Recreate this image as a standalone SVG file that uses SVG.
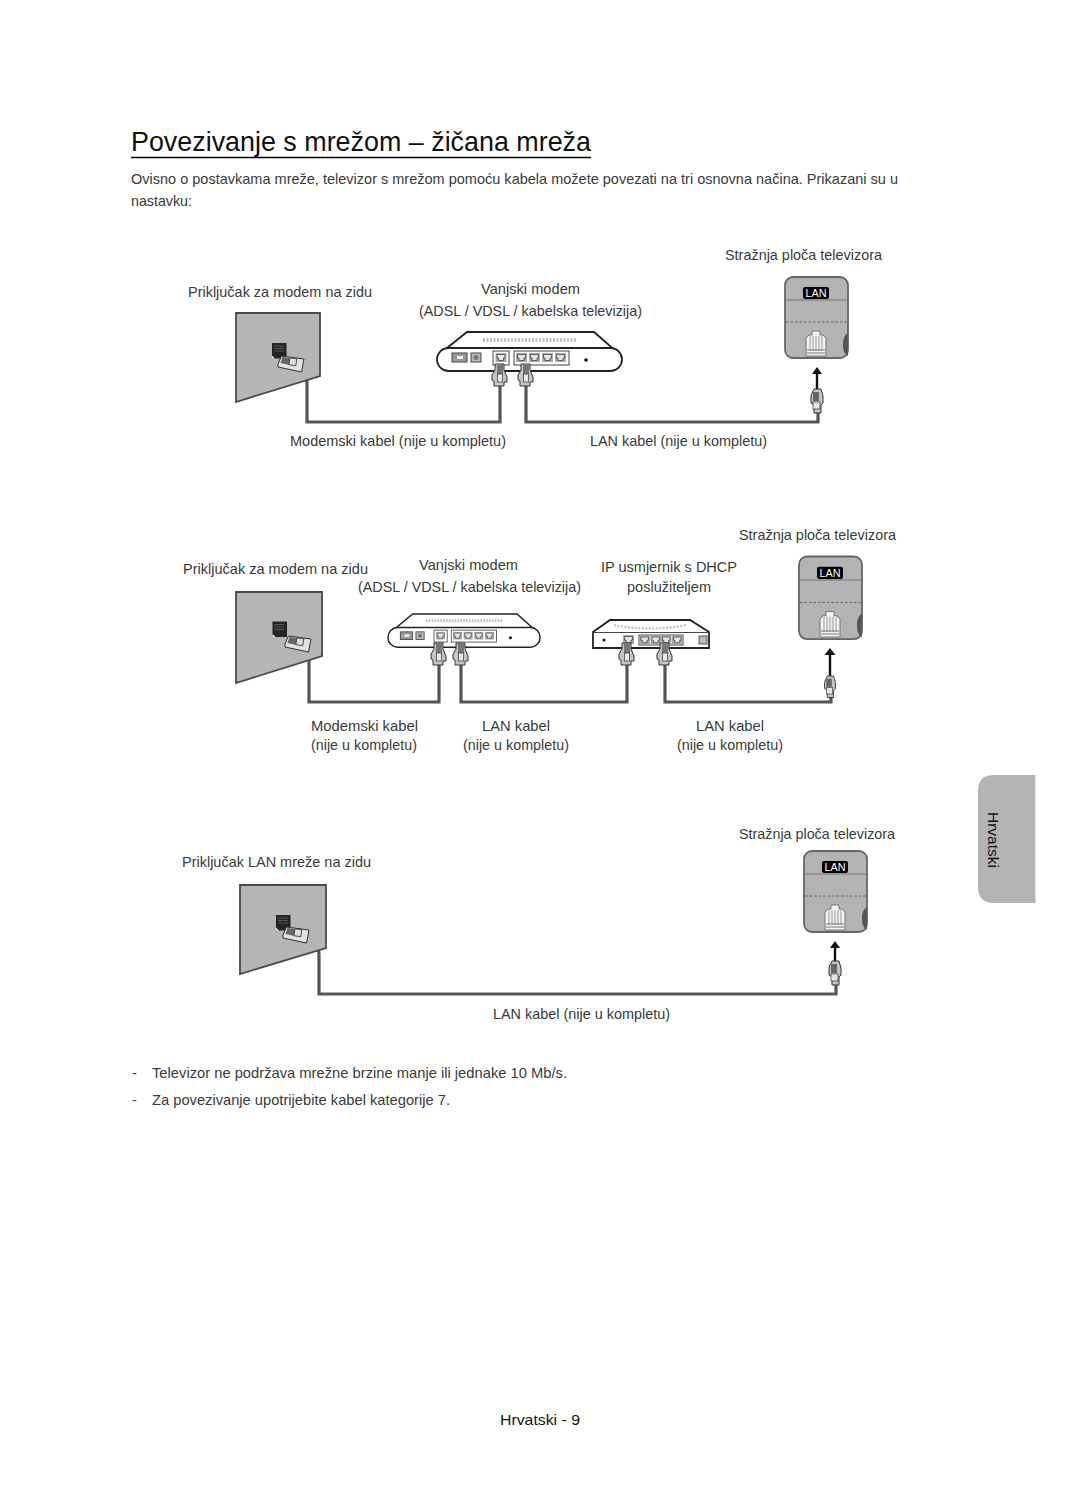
<svg xmlns="http://www.w3.org/2000/svg" xmlns:xlink="http://www.w3.org/1999/xlink" width="1080" height="1494" viewBox="0 0 1080 1494">
<style>
text{font-family:"Liberation Sans",Arial,sans-serif;font-size:14.6px;fill:#3a3a3a}
.title{font-size:27.3px;fill:#111}
.wall{fill:#b5b5b5;stroke:#4a4a4a;stroke-width:1.8}
.cable{fill:none;stroke:#555;stroke-width:3.2;stroke-linejoin:miter}
.plug{fill:#c4c4c4;stroke:#333;stroke-width:1}
.dev{fill:#fff;stroke:#222;stroke-width:1.8}
.port{fill:#fff;stroke:#444;stroke-width:1}
.panel{fill:#b3b3b3;stroke:#666;stroke-width:1.8}
.arrow{fill:none;stroke:#111;stroke-width:2.4}
</style>
<defs>
<g id="rj45-port"><rect x="0" y="0" width="11" height="9" fill="#aaa"/><path d="M1.500 1.500h8v3.500h-1.500v2.500h-5v-2.500h-1.500z" fill="#e4e4e4" stroke="#333" stroke-width=".7"/></g>
<!-- Cable plug hanging below a port; origin at the top centre -->
<g id="plug-v"><path class="plug" d="M-5 0h9v6l3 7v5h-3v4h-10v-5l-2-1v-5l3-5z"/><rect x="-3" y="1" width="6" height="9" fill="#777"/><rect x="-2.500" y="10" width="5" height="8" fill="#e8e8e8" stroke="#333" stroke-width=".7"/></g>
<!-- Plug pushed into the wall socket; origin at its centre -->
<g id="plug-wall"><path class="plug" d="M-13 0L-9.500 -8L13 -5L10.500 8L-13 3Z" stroke-width="1.200" style="fill:#e2e2e2"/><path d="M-8.500 -7L0 -6L-1.500 1L-10.500 -1Z" fill="#666"/><rect x="-2" y="-6" width="7" height="7" fill="#ddd" stroke="#333" stroke-width=".8" transform="rotate(8)"/></g>
<g id="socket"><rect width="14.500" height="15.500" fill="#242424"/><path d="M2 3h10M2 5.500h10M2 8h10" stroke="#666" stroke-width=".8" fill="none"/><path d="M0 15.500v-3l3 3z" fill="#eee"/></g>
<g id="plug-tv"><path class="plug" d="M-3 0h7l2 7v7l-2 2v8h-7v-8l-3-2v-7l1-3z"/><rect x="-4" y="3" width="6" height="9" fill="#666"/><rect x="-4" y="13" width="7" height="7" fill="#e6e6e6" stroke="#333" stroke-width=".7"/></g>
<!-- Modem body; origin at left end of the top edge -->
<g id="modem">
<path class="dev" d="M5 20L30 0H157L180 20Z"/>
<rect class="dev" x="0" y="16" width="185" height="23" rx="11.500" stroke-width="2"/>
<path d="M46 8H140" stroke="#bbb" stroke-width="3.500" stroke-dasharray="2 1.500" fill="none"/>
<rect x="15" y="21" width="15" height="9" fill="#999" stroke="#444"/><rect x="20" y="24" width="6" height="3" fill="#eee"/>
<rect x="34" y="21" width="10" height="9" fill="#bbb" stroke="#444"/><circle cx="39" cy="25.500" r="2.500" fill="#777"/>
<rect class="port" x="56" y="19" width="16" height="14"/><use xlink:href="#rj45-port" x="58.500" y="21"/>
<rect class="port" x="77" y="19" width="55" height="14"/>
<use xlink:href="#rj45-port" x="79" y="21"/><use xlink:href="#rj45-port" x="92" y="21"/><use xlink:href="#rj45-port" x="105" y="21"/><use xlink:href="#rj45-port" x="118" y="21"/>
<circle cx="149" cy="28" r="1.800" fill="#111"/>
</g>
<!-- TV rear LAN panel; origin at top-left -->
<g id="lan-panel">
<rect class="panel" x="0" y="0" width="63" height="81" rx="8"/>
<path d="M1 23H62" stroke="#777" stroke-width="1" fill="none"/>
<path d="M1 45H62" stroke="#666" stroke-width="1" stroke-dasharray="2.500 2" fill="none"/>
<rect x="18" y="10" width="26" height="12" rx="2" fill="#000"/>
<text x="20.500" y="20" textLength="21" lengthAdjust="spacingAndGlyphs" style="font-size:10.500px;fill:#fff">LAN</text>
<path d="M58 68a7 11 0 0 1 5-12v23a7 11 0 0 1-5-11z" fill="#555"/>
<path d="M21 79V61l3-3h3v-4h8v4h3l3 3v18z" fill="#f2f2f2" stroke="#777"/>
<path d="M25 59v15M28 59v15M31 59v15M34 59v15M37 59v15" stroke="#999" fill="none"/><path d="M22 73h18M22 76h18" stroke="#777" fill="none"/>
</g>
</defs>

<g id="heading">
<text class="title" x="131" y="151" textLength="460" lengthAdjust="spacingAndGlyphs">Povezivanje s mrežom – žičana mreža</text>
<path d="M131 157.500H591" stroke="#000" stroke-width="1.500"/>
<text x="131" y="184" textLength="767" lengthAdjust="spacingAndGlyphs">Ovisno o postavkama mreže, televizor s mrežom pomoću kabela možete povezati na tri osnovna načina. Prikazani su u</text>
<text x="131" y="206" textLength="61" lengthAdjust="spacingAndGlyphs">nastavku:</text>
</g>

<g id="connectors">
<path class="cable" d="M303 367Q307 372 307 385V422H500V384"/>
<path class="cable" d="M526 384V422H818V408"/>
<path class="cable" d="M308 650Q309 654 309 662V702H439V660"/>
<path class="cable" d="M461 660V702H627V660"/>
<path class="cable" d="M665 660V702H831V692"/>
<path class="cable" d="M306 938Q319 942 319 955V994H836V982"/>
<path class="arrow" d="M817 390V372"/><path d="M817 367l-5 7h10z" fill="#111"/>
<path class="arrow" d="M830 678V655"/><path d="M830 648l-5.500 7h11z" fill="#111"/>
<path class="arrow" d="M835 964V948"/><path d="M835 941l-5 7h10z" fill="#111"/>
</g>

<g id="setup-1">
<g id="wall-socket-1"><path class="wall" d="M236 313H320V376L236 402Z"/><use xlink:href="#socket" x="272" y="343"/><use xlink:href="#plug-wall" x="291" y="364"/></g>
<g id="modem-1"><use xlink:href="#modem" x="437" y="332"/><use xlink:href="#plug-v" x="500" y="364"/><use xlink:href="#plug-v" x="526" y="364"/></g>
<g id="tv-panel-1"><use xlink:href="#lan-panel" x="785" y="277"/><use xlink:href="#plug-tv" x="817" y="389"/></g>
<text x="188" y="297" textLength="184" lengthAdjust="spacingAndGlyphs">Priključak za modem na zidu</text>
<text x="481" y="294" textLength="99" lengthAdjust="spacingAndGlyphs">Vanjski modem</text>
<text x="419" y="316" textLength="223" lengthAdjust="spacingAndGlyphs">(ADSL / VDSL / kabelska televizija)</text>
<text x="725" y="260" textLength="157" lengthAdjust="spacingAndGlyphs">Stražnja ploča televizora</text>
<text x="290" y="446" textLength="216" lengthAdjust="spacingAndGlyphs">Modemski kabel (nije u kompletu)</text>
<text x="590" y="446" textLength="177" lengthAdjust="spacingAndGlyphs">LAN kabel (nije u kompletu)</text>
</g>

<g id="setup-2">
<g id="wall-socket-2"><path class="wall" d="M236 592H322V656L236 683Z"/><use xlink:href="#socket" x="272.500" y="621.500"/><use xlink:href="#plug-wall" x="298" y="644"/></g>
<g id="modem-2"><use xlink:href="#modem" transform="translate(388 614) scale(.822 .85)"/><use xlink:href="#plug-v" x="439" y="643"/><use xlink:href="#plug-v" x="461" y="643"/></g>
<g id="router">
<path class="dev" d="M610 620H690L709 632V648H593V632Z" stroke-width="1.600"/>
<path d="M593 632.500H709" stroke="#444" stroke-width="1" fill="none"/>
<path d="M614 625Q650 632 686 625" stroke="#bbb" stroke-width="2" stroke-dasharray="2 1.500" fill="none"/>
<circle cx="604" cy="640" r="1.500" fill="#111"/>
<use xlink:href="#rj45-port" x="623" y="635"/>
<rect class="port" x="639" y="635" width="44" height="10"/>
<use xlink:href="#rj45-port" transform="translate(639.500 635.500) scale(.95)"/><use xlink:href="#rj45-port" transform="translate(650.500 635.500) scale(.95)"/><use xlink:href="#rj45-port" transform="translate(661 635.500) scale(.95)"/><use xlink:href="#rj45-port" transform="translate(672 635.500) scale(.95)"/>
<rect x="699" y="636" width="8" height="8" fill="#bbb" stroke="#333" stroke-width=".8"/>
<use xlink:href="#plug-v" x="627" y="643"/><use xlink:href="#plug-v" x="665" y="643"/>
</g>
<g id="tv-panel-2"><use xlink:href="#lan-panel" transform="translate(799 556.500) scale(1 1.020)"/><use xlink:href="#plug-tv" transform="translate(830 676) scale(.9)"/></g>
<text x="739" y="540" textLength="157" lengthAdjust="spacingAndGlyphs">Stražnja ploča televizora</text>
<text x="183" y="574" textLength="185" lengthAdjust="spacingAndGlyphs">Priključak za modem na zidu</text>
<text x="419" y="570" textLength="99" lengthAdjust="spacingAndGlyphs">Vanjski modem</text>
<text x="358" y="592" textLength="223" lengthAdjust="spacingAndGlyphs">(ADSL / VDSL / kabelska televizija)</text>
<text x="601" y="572" textLength="136" lengthAdjust="spacingAndGlyphs">IP usmjernik s DHCP</text>
<text x="627" y="592" textLength="84" lengthAdjust="spacingAndGlyphs">poslužiteljem</text>
<text x="311" y="731" textLength="107" lengthAdjust="spacingAndGlyphs">Modemski kabel</text>
<text x="311" y="750" textLength="106" lengthAdjust="spacingAndGlyphs">(nije u kompletu)</text>
<text x="482" y="731" textLength="68" lengthAdjust="spacingAndGlyphs">LAN kabel</text>
<text x="463" y="750" textLength="106" lengthAdjust="spacingAndGlyphs">(nije u kompletu)</text>
<text x="696" y="731" textLength="68" lengthAdjust="spacingAndGlyphs">LAN kabel</text>
<text x="677" y="750" textLength="106" lengthAdjust="spacingAndGlyphs">(nije u kompletu)</text>
</g>

<g id="setup-3">
<g id="wall-socket-3"><path class="wall" d="M240 885H326V948L240 974Z"/><use xlink:href="#socket" x="276" y="915"/><use xlink:href="#plug-wall" x="296" y="935"/></g>
<g id="tv-panel-3"><use xlink:href="#lan-panel" x="804" y="851"/><use xlink:href="#plug-tv" x="835" y="961"/></g>
<text x="739" y="839" textLength="156" lengthAdjust="spacingAndGlyphs">Stražnja ploča televizora</text>
<text x="182" y="867" textLength="189" lengthAdjust="spacingAndGlyphs">Priključak LAN mreže na zidu</text>
<text x="493" y="1019" textLength="177" lengthAdjust="spacingAndGlyphs">LAN kabel (nije u kompletu)</text>
</g>

<g id="notes">
<text x="132" y="1078">-</text>
<text x="152" y="1078" textLength="415" lengthAdjust="spacingAndGlyphs">Televizor ne podržava mrežne brzine manje ili jednake 10 Mb/s.</text>
<text x="132" y="1105">-</text>
<text x="152" y="1105" textLength="298" lengthAdjust="spacingAndGlyphs">Za povezivanje upotrijebite kabel kategorije 7.</text>
</g>

<g id="language-tab">
<path d="M1035 775H994Q978 775 978 791V887Q978 903 994 903H1035Z" fill="#b3b3b3"/>
<path d="M1035.500 775V903" stroke="#ddd" fill="none"/>
<text transform="translate(988 812) rotate(90)" textLength="56" lengthAdjust="spacingAndGlyphs" style="fill:#111">Hrvatski</text>
</g>

<g id="page-footer"><text x="500" y="1425" textLength="80" lengthAdjust="spacingAndGlyphs" style="fill:#111">Hrvatski - 9</text></g>
</svg>
